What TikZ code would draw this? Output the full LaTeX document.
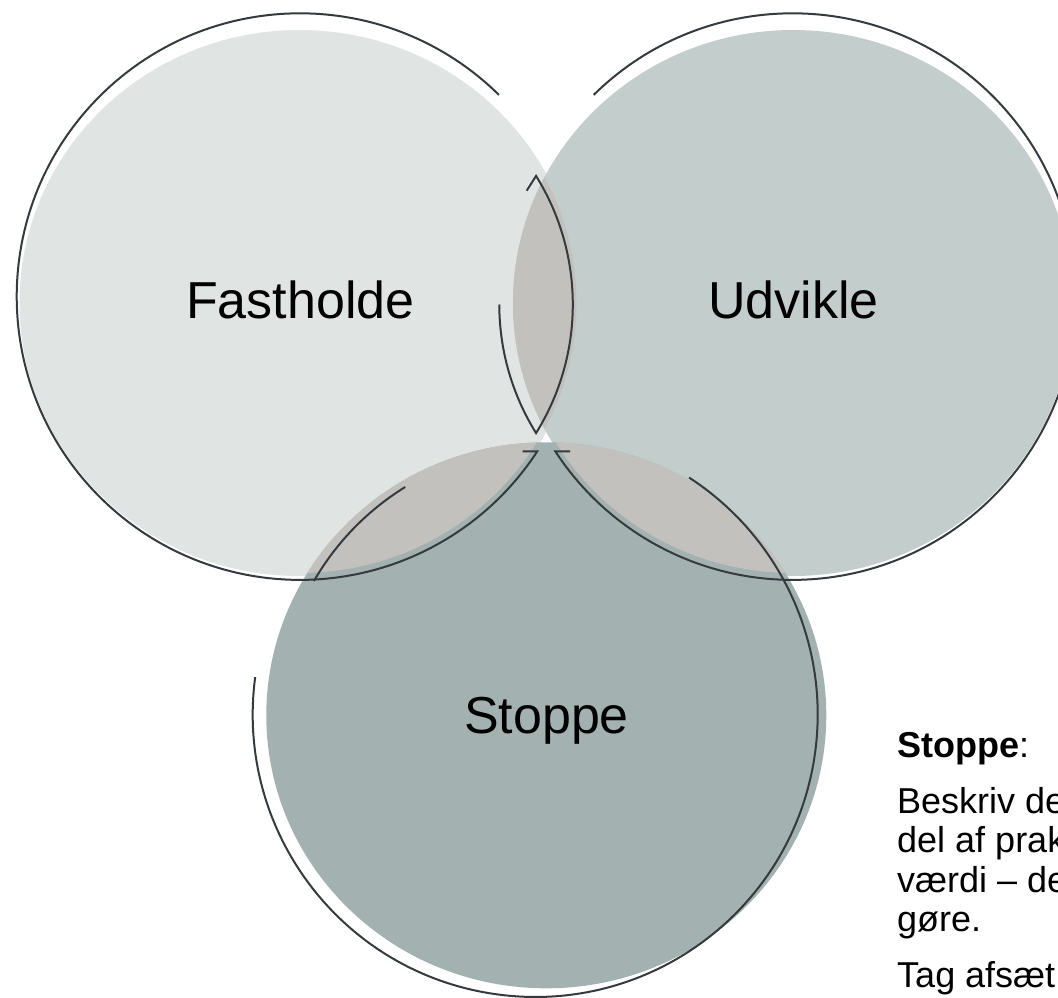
\documentclass[tikz,border=0pt]{standalone}
\usepackage{fontspec}
\setmainfont{Liberation Sans}
\definecolor{leftfill}{RGB}{224,228,227}
\definecolor{rightfill}{RGB}{195,205,203}
\definecolor{bottomfill}{RGB}{163,177,177}
\definecolor{lensfill}{RGB}{194,193,189}
\definecolor{rimgray}{RGB}{52,58,62}
\begin{document}
\begin{tikzpicture}
[x=1pt,y=-1pt,
 rimline/.style={draw=rimgray,line width=2pt,line join=miter},
 circletext/.style={font=\fontsize{52}{60}\selectfont,anchor=base,inner sep=0pt},
 notetext/.style={font=\fontsize{36}{40}\selectfont,anchor=base west,inner sep=0pt}]
\useasboundingbox (0,0) rectangle (1058,998);
\clip (0,0) rectangle (1058,998);
\fill[leftfill] (299.5,303) ellipse [x radius=280,y radius=273];
\fill[rightfill] (793,303) ellipse [x radius=280,y radius=273];
\fill[bottomfill] (546.3,715.3) ellipse [x radius=280,y radius=273];
\begin{scope}
\clip (299.5,303) ellipse [x radius=277,y radius=270];
\fill[lensfill] (793,303) ellipse [x radius=280,y radius=273];
\fill[lensfill] (546.3,715.3) ellipse [x radius=280,y radius=273];
\end{scope}
\begin{scope}
\clip (793,303) ellipse [x radius=277,y radius=270];
\fill[lensfill] (546.3,715.3) ellipse [x radius=280,y radius=273];
\end{scope}
\draw[rimline] (498.9,94.9) arc [start angle=-45.4,end angle=-326.9,radius=283.3] -- (522.7,451.3);
\draw[rimline] (593.7,94.9) arc [start angle=225.4,end angle=506.9,radius=283.3] -- (570,451.3);
\draw[rimline] (499.3,304.5) arc [start angle=180,end angle=148.1,radius=243.3]
  arc [start angle=31.9,end angle=-31.9,radius=243.3] -- (526.7,190.7);
\draw[rimline] (405.2,487) arc [start angle=238.3,end angle=210,radius=268];
\draw[rimline] (255.2,677.1) arc [start angle=187.6,end angle=-57,radius=282.5];
\node (F) at (300.4,318.4) [circletext] {Fastholde};
\node (U) at (793.5,318.4) [circletext] {Udvikle};
\node (S) at (546.5,733) [circletext] {Stoppe};
\node (n1) at (897,757) [notetext] {\textbf{Stoppe}:};
\node (n2) at (897,813) [notetext] {Beskriv de};
\node (n3) at (897,852.5) [notetext] {del af prak};
\node (n4) at (897,892) [notetext] {værdi – de};
\node (n5) at (897,931.5) [notetext] {gøre.};
\node (n6) at (897,987.5) [notetext] {Tag afsæt};
\end{tikzpicture}
\end{document}
